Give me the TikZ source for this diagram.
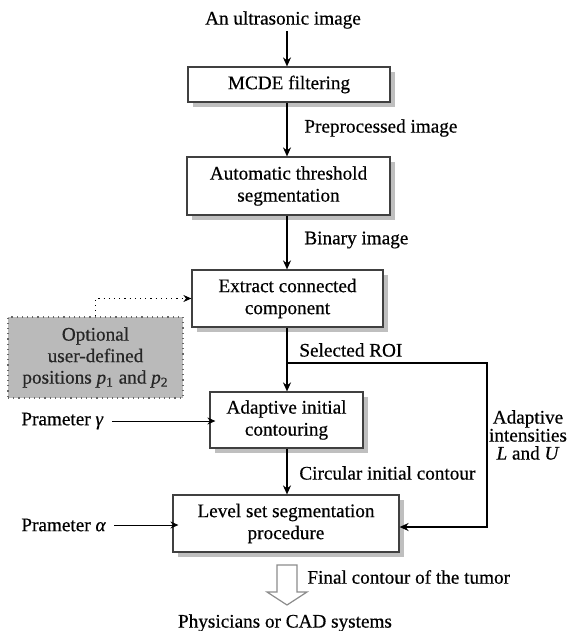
\documentclass[tikz,border=0pt]{standalone}
\usepackage{fontspec}
\setmainfont{Liberation Serif}[FakeBold=0.5]
\usetikzlibrary{arrows.meta,shadows}
\begin{document}
\begin{tikzpicture}[x=0.5pt,y=-0.5pt,
  every node/.style={font=\fontsize{9.6}{11}\selectfont, inner sep=1pt},
  box/.style={draw=black!75, line width=0.6pt, fill=white, align=center,
    drop shadow={shadow xshift=2.6pt, shadow yshift=-2.6pt, fill=black!25, opacity=1}},
  optbox/.style={draw=black!60, dotted, line width=0.6pt, fill=black!27, align=center,
    text=black!85, font=\fontsize{9.6}{10.75}\selectfont},
  lbl/.style={anchor=west},
  arr/.style={line width=1pt, -{Stealth[length=4.5pt,width=4pt]}},
  thinarr/.style={line width=0.5pt, -{Stealth[length=4pt,width=3.5pt]}},
  dotarr/.style={line width=0.6pt, dotted, -{Stealth[length=4pt,width=3.5pt]}},
  hollow/.style={draw=black!45, line width=0.6pt, fill=white}
]
\useasboundingbox (0,0) rectangle (569,631);
\coordinate (ax) at (287,0);

\node (in) at (283,20) {An ultrasonic image};
\node[box, minimum width=101pt, minimum height=17.5pt] (mcde) at (289,84.5) {MCDE filtering};
\node[box, minimum width=101.5pt, minimum height=29pt] (auto) at (288.5,186) {Automatic threshold\\segmentation};
\node[box, minimum width=95.5pt, minimum height=28.5pt] (ext) at (287.5,298.5) {Extract connected\\component};
\node[optbox, minimum width=87.5pt, minimum height=40.5pt] (opt) at (95.5,357.5)
  {Optional\\user-defined\\positions \textit{p}\textsubscript{1} and \textit{p}\textsubscript{2}};
\node[box, minimum width=76.5pt, minimum height=28pt] (adap) at (286.5,420) {Adaptive initial\\contouring};
\node[box, minimum width=113pt, minimum height=28.5pt] (level) at (286,523.5) {Level set segmentation\\procedure};

\node[lbl] (pre) at (302,128) {Preprocessed image};
\node[lbl] (bin) at (302,240) {Binary image};
\node[lbl] (roi) at (297,350) {Selected ROI};
\node[lbl] (circ) at (297,473) {Circular initial contour};
\node[lbl] (fin) at (305,577) {Final contour of the tumor};
\node (phys) at (285,623) {Physicians or CAD systems};
\node[anchor=west] (pg) at (19,421) {Prameter \textit{γ}};
\node[anchor=west] (pa) at (19,525) {Prameter \textit{α}};
\node[align=center, font=\fontsize{9.6}{9}\selectfont] (ai) at (528,435)
  {Adaptive\\intensities\\\textit{L} and \textit{U}};

\draw[arr] (in.south -| ax) -- (mcde.north -| ax);
\draw[arr] (mcde.south -| ax) -- (auto.north -| ax);
\draw[arr] (auto.south -| ax) -- (ext.north -| ax);
\draw[arr] (ext.south -| ax) -- (adap.north -| ax);
\draw[arr] (adap.south -| ax) -- (level.north -| ax);
\draw[dotarr] (opt.north) |- (ext.west);

\coordinate (br) at (287,363);
\coordinate (rt) at (487,363);
\coordinate (rb) at (487,527);
\draw[arr] (br) -- (rt) -- (rb) -- (rb -| level.east);

\draw[thinarr] ([xshift=3pt]pg.east) -- ([xshift=3pt]pg.east -| adap.west);
\draw[thinarr] ([xshift=3pt]pa.east) -- ([xshift=3pt]pa.east -| level.west);

% hollow arrow
\coordinate (hs) at (287,565);
\draw[hollow] ([xshift=-5pt]hs) -- ++(0,27) -- ++(-10,0) -- (287,605) -- (307,592) -- ++(-10,0) -- ([xshift=5pt]hs) -- cycle;
\end{tikzpicture}
\end{document}
